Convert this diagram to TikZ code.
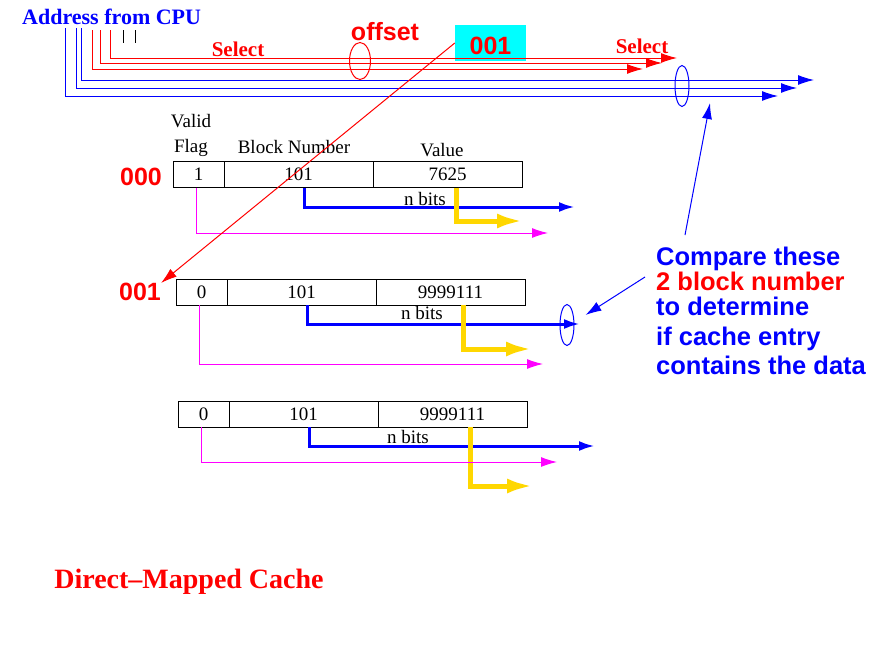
\documentclass[tikz,border=0pt]{standalone}
\usepackage{xcolor}
\usepackage{fontspec}
\setmainfont{Liberation Serif}
\setsansfont{Liberation Sans}
\usepackage{tikz}
\usetikzlibrary{shapes.geometric, arrows.meta, positioning}
\definecolor{xblue}{RGB}{0,0,255}
\definecolor{xred}{RGB}{255,0,0}
\definecolor{xmag}{RGB}{255,0,255}
\definecolor{xgold}{RGB}{255,215,0}
\definecolor{xcyan}{RGB}{0,255,255}
\tikzstyle{cell} = [rectangle, draw=black, line width=0.8pt, minimum height=26pt, inner sep=0pt, outer sep=0pt, text centered, font=\fontsize{19}{22}\selectfont]
\tikzstyle{flagcell} = [cell, minimum width=51pt]
\tikzstyle{datacell} = [cell, minimum width=149pt]
\tikzstyle{hdr} = [inner sep=0pt, align=center, font=\fontsize{19}{25}\selectfont]
\tikzstyle{idx} = [inner sep=0pt, text=xred, font=\sffamily\bfseries\fontsize{25}{25}\selectfont]
\tikzstyle{title} = [inner sep=0pt, font=\bfseries\fontsize{21}{25}\selectfont]
\tikzstyle{tip} = [-{Latex[length=16pt,width=10pt]}]
\tikzstyle{bus} = [tip, line width=1pt]
\tikzstyle{tagline} = [tip, xblue, line width=3pt]
\tikzstyle{dataline} = [-{Latex[length=26pt,width=15pt]}, xgold, line width=5pt]
\tikzstyle{validline} = [tip, xmag, line width=1pt]
\tikzstyle{ring} = [ellipse, draw, line width=1pt, inner sep=0pt]

\begin{document}
\begin{tikzpicture}[x=1pt, y=-1pt]
\useasboundingbox (0,0) rectangle (895,656);

\node (sel) [idx, fill=xcyan, minimum width=71pt, minimum height=36pt, text height=24pt] at (490.5,43) {001};
\node (addr) [title, text=xblue, anchor=west, font=\bfseries\fontsize{22}{25}\selectfont] at (22,17) {Address from CPU};
\node (selA) [title, text=xred] at (238,49) {Select};
\node (selB) [title, text=xred] at (642,46) {Select};
\node (offs) [idx] at (385,32) {offset};

% address bits
\coordinate (a0) at (65,28);
\coordinate (a1) at (76,28);
\coordinate (a2) at (81,28);
\coordinate (s0) at (92,30);
\coordinate (s1) at (100,30);
\coordinate (s2) at (110,30);
\coordinate (e0) at (778,96);
\coordinate (e1) at (797,88);
\coordinate (e2) at (814,80);
\coordinate (f0) at (643,69);
\coordinate (f1) at (662,63);
\coordinate (f2) at (677,58);
\draw [bus, xblue] (a0) |- (e0);
\draw [bus, xblue] (a1) |- (e1);
\draw [bus, xblue] (a2) |- (e2);
\draw [bus, xred] (s0) |- (f0);
\draw [bus, xred] (s1) |- (f1);
\draw [bus, xred] (s2) |- (f2);
\draw [line width=1pt] (123,30) -- (123,43);
\draw [line width=1pt] (135,30) -- (135,43);

\node (offring) [ring, draw=xred, minimum width=21pt, minimum height=37pt] at (360,61) {};
\node (busring) [ring, draw=xblue, minimum width=14pt, minimum height=41pt] at (682,86) {};

% cache table
\node (valid) [hdr] at (191,135) {Valid\\Flag};
\node (blkhdr) [hdr] at (294,147) {Block Number};
\node (valhdr) [hdr] at (442,150) {Value};

\node (flag0) [flagcell, anchor=west] at (173,174.5) {1};
\node (blk0) [datacell, right=0pt of flag0] {101};
\node (val0) [datacell, right=0pt of blk0] {7625};
\node (idx0) [idx] at (141,177) {000};

\node (flag1) [flagcell, anchor=west] at (176,292) {0};
\node (blk1) [datacell, right=0pt of flag1] {101};
\node (val1) [datacell, right=0pt of blk1] {9999111};
\node (idx1) [idx] at (140,292) {001};

\node (flag2) [flagcell, anchor=west] at (178,414) {0};
\node (blk2) [datacell, right=0pt of flag2] {101};
\node (val2) [datacell, right=0pt of blk2] {9999111};

\node (nb0) [hdr] at (425,199) {n bits};
\node (nb1) [hdr] at (422,313) {n bits};
\node (nb2) [hdr] at (408,437) {n bits};

\coordinate (cmp0) at (575,207);
\coordinate (dat0) at (523,221);
\coordinate (vld0) at (548,233);
\coordinate (cmp1) at (580,324);
\coordinate (dat1) at (532,349);
\coordinate (vld1) at (543,364);
\coordinate (cmp2) at (595,446);
\coordinate (dat2) at (533,486);
\coordinate (vld2) at (557,462);

\draw [tagline] ([xshift=6]blk0.south) |- (cmp0);
\draw [dataline] ([xshift=8.5]val0.south) |- (dat0);
\draw [validline] ([xshift=-2]flag0.south) |- (vld0);
\draw [tagline] ([xshift=6]blk1.south) |- (cmp1);
\draw [dataline] ([xshift=12.5]val1.south) |- (dat1);
\draw [validline] ([xshift=-2]flag1.south) |- (vld1);
\draw [tagline] ([xshift=6]blk2.south) |- (cmp2);
\draw [dataline] ([xshift=17.5]val2.south) |- (dat2);
\draw [validline] ([xshift=-2]flag2.south) |- (vld2);

\node (cmpring) [ring, draw=xblue, minimum width=14pt, minimum height=41pt] at (567,325) {};

\draw [tip, xred, line width=1pt] (sel.west) -- (idx1.north east);

% note on the right
\node (note) [anchor=north west, align=left, inner sep=0pt, text=xblue, font=\sffamily\bfseries\fontsize{25.5}{25}\selectfont] at (656,247) {Compare these\\ \textcolor{xred}{2 block number}\\ to determine\\[5pt] if cache entry\\[4pt] contains the data};
\draw [tip, xblue, line width=1pt] ([xshift=29pt,yshift=12pt]note.north west) -- ([xshift=28pt,yshift=4pt]busring.south);
\draw [tip, xblue, line width=1pt] ([xshift=-11pt,yshift=-30pt]note.north west) -- ([xshift=11pt,yshift=10pt]cmpring.east);

\node (caption) [title, text=xred, font=\bfseries\fontsize{28}{30}\selectfont] at (189,582) {Direct--Mapped Cache};
\end{tikzpicture}
\end{document}
